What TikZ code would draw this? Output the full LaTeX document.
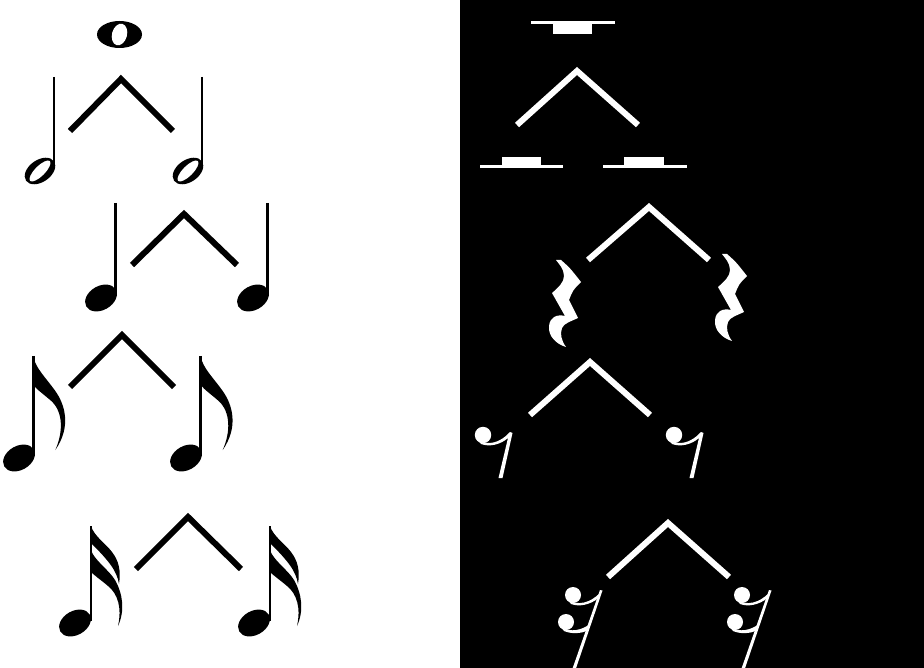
\documentclass[tikz,border=0pt]{standalone}
\begin{document}
\begin{tikzpicture}[x=1pt,y=-1pt,
  chev/.style={line width=6pt,miter limit=10},
  stemw/.style={line width=2.6pt},
  pics/wnote/.style={code={
    \fill (0,0) ellipse [x radius=22.5,y radius=13.5];
    \fill[white,rotate=-15] (0,0) ellipse [x radius=7.5,y radius=11];}},
  pics/hhead/.style={code={
    \fill[rotate=35] (0,0) ellipse [x radius=17,y radius=11];
    \fill[white,rotate=45] (0,0) ellipse [x radius=14,y radius=5];}},
  pics/qhead/.style={code={
    \fill[rotate=30] (0,0) ellipse [x radius=17,y radius=12];}},
  pics/eflag/.style={code={
    \fill (0,0) .. controls (3,12) and (12,20) .. (22,34) .. controls (32,48) and (38,70) .. (22,93)
      .. controls (30,75) and (30,55) .. (18,44) .. controls (10,37) and (4,33) .. (0,28) -- cycle;}},
  pics/sflag/.style={code={
    \fill (0,0) .. controls (3,10) and (15,18) .. (21,26) .. controls (28,35) and (30,45) .. (28,58)
      .. controls (26,45) and (18,35) .. (0,17) -- cycle;
    \fill (0,24) .. controls (3,34) and (18,44) .. (24,54) .. controls (32,68) and (34,85) .. (27,100)
      .. controls (31,82) and (27,68) .. (17,60) .. controls (10,54) and (4,50) .. (0,46) -- cycle;}},
  pics/qrest/.style={code={
    \fill[white] (0,0) -- (5,0) .. controls (14,8) .. (25,22) .. controls (17,30) .. (13,40) -- (22,58)
      .. controls (16,61) and (8,63) .. (6,68) .. controls (4,74) and (5,80) .. (10,87)
      .. controls (0,84) and (-8,76) .. (-7,66) .. controls (-6,57) and (1,54) .. (9,56)
      -- (-4,33) .. controls (3,27) and (8,22) .. (8,16) .. controls (8,9) and (3,4) .. (0,0) -- cycle;}},
  pics/erest/.style={code={
    \fill[white] (0,0) circle [radius=8.2];
    \fill[white] (-5,5) .. controls (5,11) and (17,8) .. (27,-3) -- (29.5,-2) -- (19.5,43) -- (15.5,43)
      -- (25,3) .. controls (17,10) and (6,12) .. (-2,9) -- cycle;}},
  pics/srest/.style={code={
    \fill[white] (0,0) circle [radius=8];
    \fill[white] (-7,27) circle [radius=8];
    \fill[white] (27,-5) -- (29.5,-4.5) -- (-1,85) -- (-4.5,85) -- cycle;
    \fill[white] (-5,5) .. controls (5,11) and (17,8) .. (27,-2) -- (25.5,3) .. controls (17,10) and (6,12) .. (-2,9) -- cycle;
    \fill[white] (-12,32) .. controls (-2,38) and (9,35) .. (17,29) -- (15.5,35) .. controls (8,39) and (-2,39) .. (-9,36) -- cycle;}}
]
\useasboundingbox (0,0) rectangle (924,668);
\fill[white] (0,0) rectangle (460,668);
\fill[black] (460,0) rectangle (924,668);

% ---------- left: notes ----------
% row 1
\pic at (119.5,34.5) {wnote};
\draw[chev] (70,131) -- (121,79) -- (173,131);
\draw[stemw] (54,77) -- (54,168);
\pic at (40,171) {hhead};
\draw[stemw] (202,77) -- (202,168);
\pic at (188,171) {hhead};
% row 2
\draw[chev] (132,265) -- (184,214) -- (237,265);
\draw[stemw] (115.5,203) -- (115.5,296);
\pic at (101,298) {qhead};
\draw[stemw] (267.5,203) -- (267.5,296);
\pic at (253,298) {qhead};
% row 3
\draw[chev] (70,387) -- (122,335) -- (174,387);
\draw[stemw] (33.3,356) -- (33.3,456);
\pic at (19,458) {qhead};
\pic at (33.3,357) {eflag};
\draw[stemw] (200.7,356) -- (200.7,456);
\pic at (186,458) {qhead};
\pic at (200.7,357) {eflag};
% row 4
\draw[chev] (136,569) -- (188,517) -- (241,569);
\draw[stemw] (91,526) -- (91,621);
\pic at (75,623) {qhead};
\pic at (91,526) {sflag};
\draw[stemw] (270,526) -- (270,621);
\pic at (254,623) {qhead};
\pic at (270,526) {sflag};

% ---------- right: rests ----------
\begin{scope}[white]
% row 1
\fill (531,21.5) rectangle (615,24.5);
\fill (553,24) rectangle (592,34);
\draw[chev] (517,125) -- (577,71) -- (638,125);
\fill (480,165.5) rectangle (563,168.5);
\fill (502,157) rectangle (541,166);
\fill (603,165.5) rectangle (687,168.5);
\fill (624,157) rectangle (664,166);
% row 2
\draw[chev] (588,260) -- (649,207) -- (709,260);
\pic at (556,260) {qrest};
\pic at (722,254) {qrest};
% row 3
\draw[chev] (530,415) -- (590,362) -- (650,415);
\pic at (483,435) {erest};
\pic at (674,435) {erest};
% row 4
\draw[chev] (608,577) -- (668,523) -- (729,577);
\pic at (573,595) {srest};
\pic at (742,595) {srest};
\end{scope}
\end{tikzpicture}
\end{document}
